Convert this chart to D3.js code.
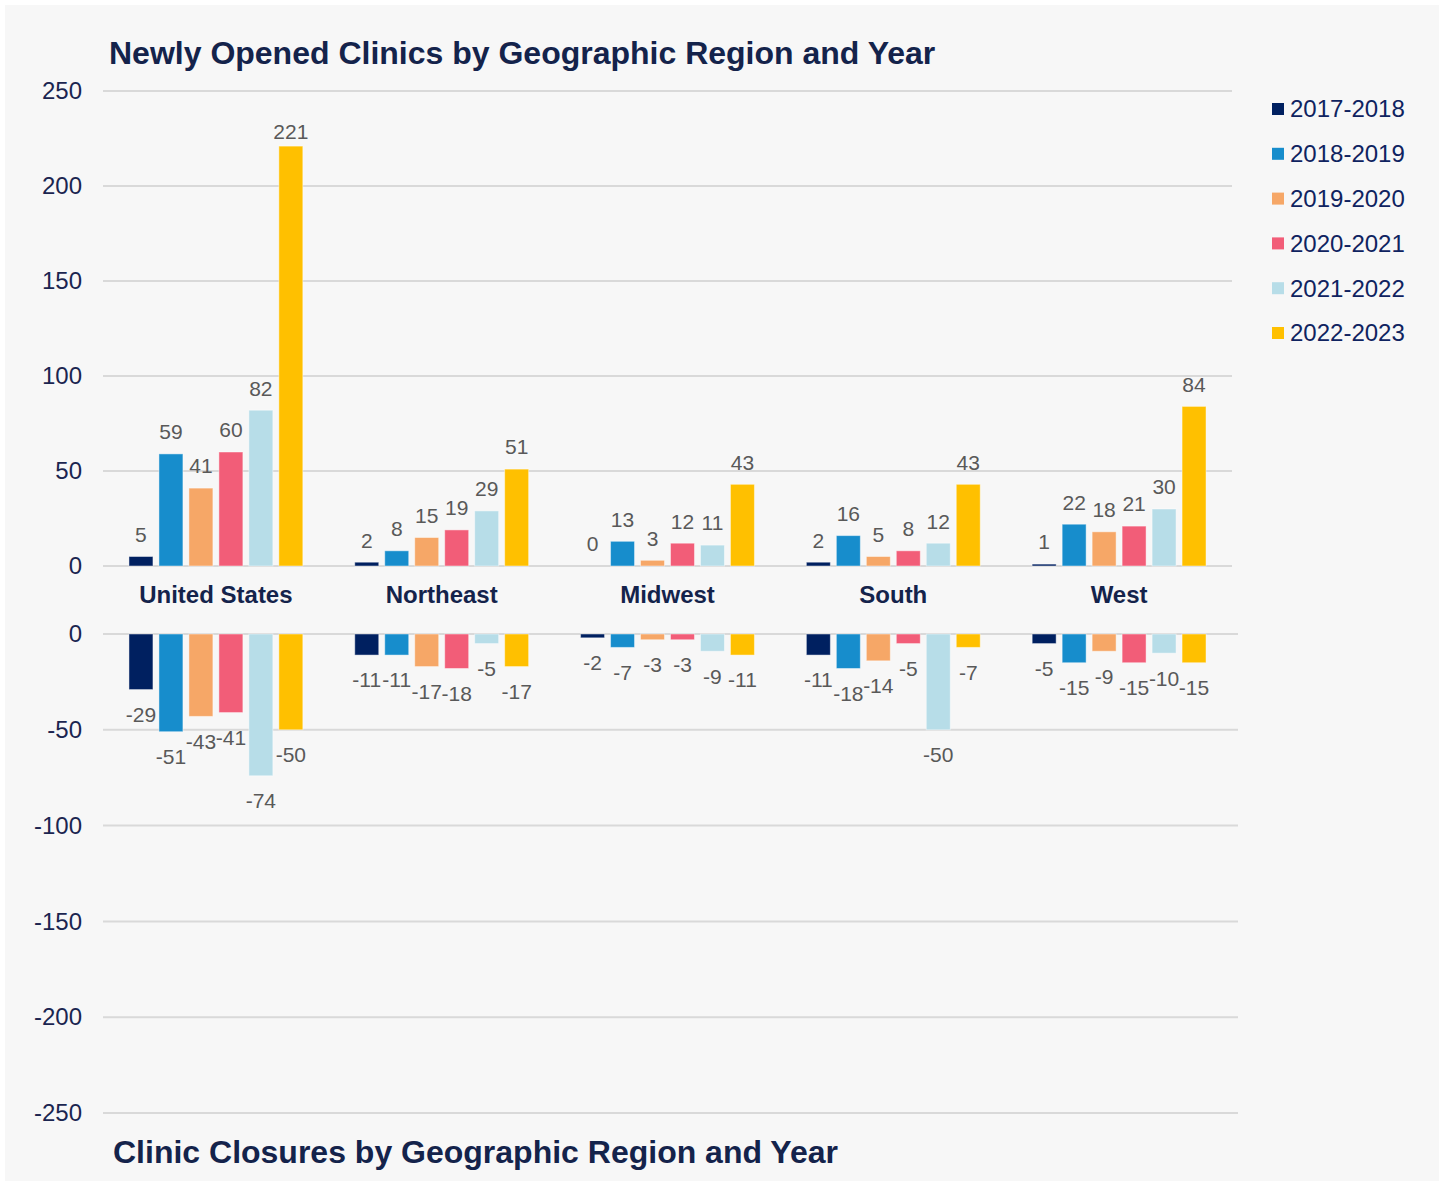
<!DOCTYPE html>
<html>
<head>
<meta charset="utf-8">
<script src="https://cdn.jsdelivr.net/npm/d3@7"></script>
<style>
  body { margin: 0; background: #ffffff; }
  svg text { font-family: Arial, "Liberation Sans", sans-serif; }
</style>
</head>
<body>
<div id="chart"></div>
<script>
// regions and year series
var regions = ["United States", "Northeast", "Midwest", "South", "West"];
var years = ["2017-2018", "2018-2019", "2019-2020", "2020-2021", "2021-2022", "2022-2023"];
var colors = ["#002060", "#178dcc", "#f6a767", "#f25d78", "#b7dde8", "#ffc000"];

// opened clinics, one array per year, in region order
var opened2017 = [5, 2, 0, 2, 1];
var opened2018 = [59, 8, 13, 16, 22];
var opened2019 = [41, 15, 3, 5, 18];
var opened2020 = [60, 19, 12, 8, 21];
var opened2021 = [82, 29, 11, 12, 30];
var opened2022 = [221, 51, 43, 43, 84];

// closures
var closed2017 = [-29, -11, -2, -11, -5];
var closed2018 = [-51, -11, -7, -18, -15];
var closed2019 = [-43, -17, -3, -14, -9];
var closed2020 = [-41, -18, -3, -5, -15];
var closed2021 = [-74, -5, -9, -50, -10];
var closed2022 = [-50, -17, -11, -7, -15];

var topTicks = [0, 50, 100, 150, 200, 250];
var bottomTicks = [0, -50, -100, -150, -200, -250];

var openedSeries = [opened2017, opened2018, opened2019, opened2020, opened2021, opened2022];
var closedSeries = [closed2017, closed2018, closed2019, closed2020, closed2021, closed2022];

var svgWidth = 1444;
var svgHeight = 1184;

var svg = d3.select("#chart")
  .append("svg")
  .attr("width", svgWidth)
  .attr("height", svgHeight);

// light grey panel
svg.append("rect")
  .attr("x", 5).attr("y", 5)
  .attr("width", 1434).attr("height", 1176)
  .attr("fill", "#f7f7f7");

var x0 = d3.scaleBand()
  .domain(regions)
  .range([103, 1232])
  .paddingInner(0.23)
  .paddingOuter(0.115);

var x1 = d3.scaleBand()
  .domain(years)
  .range([0, x0.bandwidth()])
  .paddingInner(0.2)
  .paddingOuter(0);

var yTop = d3.scaleLinear().domain([0, 250]).range([566, 91]);
var yBottom = d3.scaleLinear().domain([-250, 0]).range([1113, 634]);

function flatten(series) {
  var rows = [];
  series.forEach(function(vals, i) {
    vals.forEach(function(v, j) {
      rows.push({ region: regions[j], year: years[i], color: colors[i], value: v });
    });
  });
  return rows;
}

function drawPanel(y, ticks, series, gridRight, labelsBelow) {
  var g = svg.append("g");

  // gridlines
  g.selectAll(".grid")
    .data(ticks)
    .enter()
    .append("line")
    .attr("x1", 103)
    .attr("x2", gridRight)
    .attr("y1", d => y(d))
    .attr("y2", d => y(d))
    .attr("stroke", "#d9d9d9")
    .attr("stroke-width", 2);

  // y axis labels (plain hyphen for negatives)
  var axis = d3.axisLeft(y).tickValues(ticks).tickSize(0).tickPadding(0)
    .tickFormat(d => String(d));
  var ax = g.append("g")
    .attr("transform", "translate(82,0)")
    .call(axis);
  ax.attr("font-family", null);
  ax.select(".domain").remove();
  ax.selectAll("text")
    .attr("font-size", 24)
    .attr("fill", "#1b2550");

  var rows = flatten(series);

  g.selectAll(".bar")
    .data(rows)
    .enter()
    .append("rect")
    .attr("x", d => x0(d.region) + x1(d.year))
    .attr("width", x1.bandwidth())
    .attr("y", d => Math.min(y(d.value), y(0)))
    .attr("height", d => Math.abs(y(d.value) - y(0)))
    .attr("fill", d => d.color)
    .attr("stroke", "rgba(255,255,255,0.45)")
    .attr("stroke-width", 1);

  g.selectAll(".lbl")
    .data(rows)
    .enter()
    .append("text")
    .attr("x", d => x0(d.region) + x1(d.year) + x1.bandwidth() / 2)
    .attr("y", d => labelsBelow ? y(d.value) + 25 : y(d.value) - (d.value > 200 ? 14 : 22))
    .attr("dy", "0.35em")
    .attr("text-anchor", "middle")
    .attr("font-size", 21)
    .attr("fill", "#595959")
    .text(d => d.value);
}

drawPanel(yTop, topTicks, openedSeries, 1232, false);
drawPanel(yBottom, bottomTicks, closedSeries, 1238, true);

// region labels between panels
svg.selectAll(".region")
  .data(regions)
  .enter()
  .append("text")
  .attr("x", d => x0(d) + x0.bandwidth() / 2)
  .attr("y", 595)
  .attr("dy", "0.35em")
  .attr("text-anchor", "middle")
  .attr("font-size", 24)
  .attr("font-weight", "bold")
  .attr("fill", "#14234b")
  .text(d => d);

// titles
svg.append("text")
  .attr("x", 109).attr("y", 53).attr("dy", "0.35em")
  .attr("font-size", 32).attr("font-weight", "bold")
  .attr("fill", "#14234b")
  .text("Newly Opened Clinics by Geographic Region and Year");

svg.append("text")
  .attr("x", 113).attr("y", 1152).attr("dy", "0.35em")
  .attr("font-size", 32).attr("font-weight", "bold")
  .attr("fill", "#14234b")
  .text("Clinic Closures by Geographic Region and Year");

// legend
var legend = svg.selectAll(".legend")
  .data(years)
  .enter()
  .append("g")
  .attr("transform", (d, i) => `translate(1272, ${109 + i * 44.8})`);

legend.append("rect")
  .attr("x", 0).attr("y", -6)
  .attr("width", 12).attr("height", 12)
  .attr("fill", (d, i) => colors[i]);

legend.append("text")
  .attr("x", 18).attr("y", 0).attr("dy", "0.35em")
  .attr("font-size", 24)
  .attr("fill", "#0f2360")
  .text(d => d);
</script>
</body>
</html>
